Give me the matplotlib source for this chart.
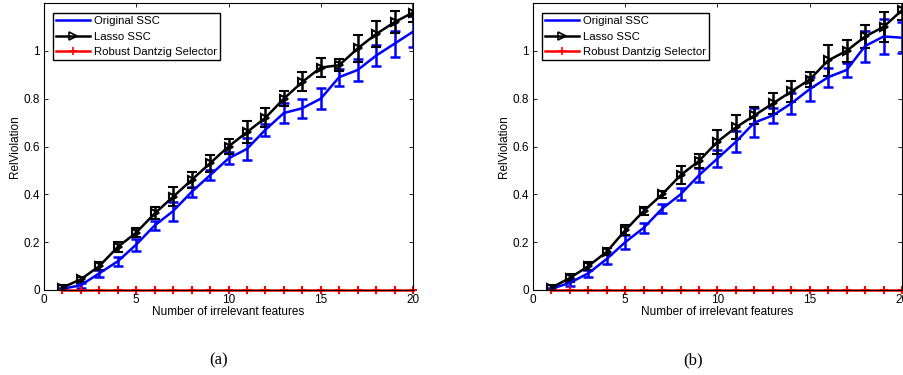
import numpy as np
import matplotlib
matplotlib.use('Agg')
import matplotlib.pyplot as plt
from matplotlib.lines import Line2D

plt.rcParams['font.family'] = ['Liberation Sans', 'DejaVu Sans']

n_feat = np.arange(1, 21)

# --- panel (a) ---
orig_a = [0.005, 0.02, 0.07, 0.12, 0.19, 0.27, 0.33, 0.41, 0.48, 0.55,
          0.59, 0.67, 0.74, 0.76, 0.80, 0.89, 0.92, 0.98, 1.03, 1.08]
orig_a_err = [0.005, 0.01, 0.015, 0.02, 0.025, 0.02, 0.04, 0.02, 0.02, 0.025,
              0.045, 0.025, 0.04, 0.04, 0.045, 0.035, 0.045, 0.045, 0.055, 0.065]
lasso_a = [0.01, 0.045, 0.10, 0.18, 0.24, 0.32, 0.39, 0.46, 0.53, 0.60,
           0.66, 0.72, 0.80, 0.87, 0.93, 0.94, 1.01, 1.07, 1.12, 1.16]
lasso_a_err = [0.01, 0.01, 0.015, 0.02, 0.02, 0.025, 0.04, 0.035, 0.035, 0.03,
               0.045, 0.04, 0.03, 0.04, 0.04, 0.025, 0.055, 0.055, 0.045, 0.04]

# --- panel (b) ---
orig_b = [0.005, 0.03, 0.07, 0.13, 0.20, 0.26, 0.34, 0.40, 0.48, 0.55,
          0.62, 0.70, 0.73, 0.78, 0.84, 0.89, 0.92, 1.02, 1.06, 1.055]
orig_b_err = [0.005, 0.015, 0.015, 0.02, 0.03, 0.02, 0.02, 0.025, 0.03, 0.035,
              0.045, 0.06, 0.03, 0.045, 0.05, 0.04, 0.03, 0.065, 0.075, 0.065]
lasso_b = [0.01, 0.05, 0.10, 0.16, 0.25, 0.33, 0.40, 0.48, 0.54, 0.62,
           0.68, 0.73, 0.78, 0.83, 0.88, 0.96, 1.00, 1.06, 1.10, 1.17]
lasso_b_err = [0.01, 0.015, 0.015, 0.015, 0.02, 0.015, 0.015, 0.038, 0.03, 0.05,
               0.05, 0.035, 0.045, 0.045, 0.03, 0.066, 0.045, 0.05, 0.062, 0.04]

rds = [0.0] * 20

labels = ['Original SSC', 'Lasso SSC', 'Robust Dantzig Selector']

panels = [
    (orig_a, orig_a_err, lasso_a, lasso_a_err, '(a)'),
    (orig_b, orig_b_err, lasso_b, lasso_b_err, '(b)'),
]

fig = plt.figure(figsize=(9.04, 3.75), dpi=100)
W, H = 904, 375
axes_px = [(44, 413, 3, 290), (533, 902, 3, 290)]
caption_x = [219, 693]

for (o, oe, l, le, cap), (x0, x1, y0, y1), cx in zip(panels, axes_px, caption_x):
    ax = fig.add_axes([x0 / W, 1 - y1 / H, (x1 - x0) / W, (y1 - y0) / H])
    ax.errorbar(n_feat, o, yerr=oe, color='b', lw=1.8, elinewidth=1.8,
                capsize=3.5, capthick=1.8)
    ax.errorbar(n_feat, l, yerr=le, color='k', lw=1.8, elinewidth=1.8,
                capsize=3.5, capthick=1.8, marker='>', mfc='none', mec='k',
                ms=6, mew=1.5)
    ax.plot(n_feat, rds, color='r', lw=1.8, marker='+', ms=6, mew=1.5,
            clip_on=False)
    ax.set_xlim(0, 20)
    ax.set_ylim(0, 1.2)
    ax.set_xticks([0, 5, 10, 15, 20])
    ax.set_yticks([0, 0.2, 0.4, 0.6, 0.8, 1.0])
    ax.set_yticklabels(['0', '0.2', '0.4', '0.6', '0.8', '1'])
    ax.tick_params(direction='in', top=True, right=True, labelsize=8.5,
                   length=3, width=0.6, pad=3)
    for s in ax.spines.values():
        s.set_linewidth(0.8)
    ax.set_xlabel('Number of irrelevant features', fontsize=8.5, labelpad=0)
    ax.set_ylabel('RelViolation', fontsize=8.5, labelpad=2)

    handles = [
        Line2D([], [], color='b', lw=1.8),
        Line2D([], [], color='k', lw=1.8, marker='>', mfc='none', ms=6, mew=1.2),
        Line2D([], [], color='r', lw=1.8, marker='+', ms=6, mew=1.2),
    ]
    leg = ax.legend(handles, labels, loc='upper left',
                    bbox_to_anchor=(0.024, 0.965), fontsize=8.2,
                    fancybox=False, edgecolor='k', framealpha=1,
                    borderpad=0.3, labelspacing=0.45, handlelength=3.0,
                    handletextpad=0.3, borderaxespad=0, markerscale=1)
    leg.get_frame().set_linewidth(1.0)
    fig.text(cx / W, 1 - 360 / H, cap, ha='center', va='center',
             fontsize=12, family='Liberation Serif')

fig.savefig('out.png', dpi=100)
